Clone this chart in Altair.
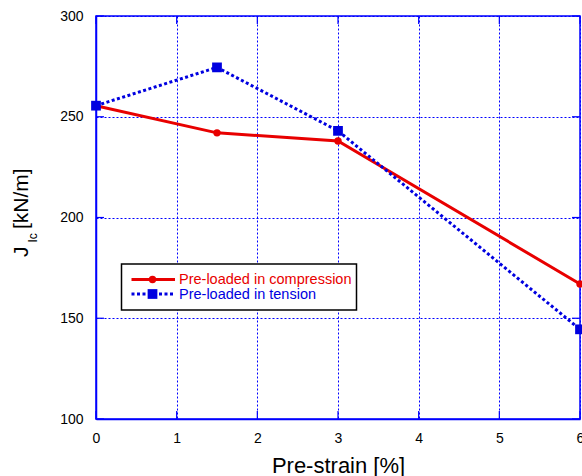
import altair as alt
import pandas as pd

# Pre-strain levels [%] and fracture toughness J_Ic [kN/m]
strain = [0, 1.5, 3, 6]
jic_compression = [255.5, 242, 238, 167]
jic_tension = [255.5, 274.5, 243, 144.5]
series_names = ["Pre-loaded in compression", "Pre-loaded in tension"]
x_ticks = [0, 1, 2, 3, 4, 5, 6]
y_ticks = [100, 150, 200, 250, 300]

RED = "#e80000"
BLUE = "#0000e0"
GRID = "#0000ff"
FONT = "Liberation Sans"
W, H = 484, 403
TICK = 8

comp = pd.DataFrame({"strain": strain, "jic": jic_compression})
tens = pd.DataFrame({"strain": strain, "jic": jic_tension})

x_scale = alt.Scale(domain=[0, 6], nice=False)
y_scale = alt.Scale(domain=[100, 300], nice=False, zero=False)

x_enc = alt.X(
    "strain:Q", scale=x_scale,
    axis=alt.Axis(values=x_ticks, title="Pre-strain [%]", titleX=W / 2, titleY=53,
                  titleAlign="center", titleBaseline="alphabetic", titleFontSize=22,
                  titleFont=FONT, titleFontWeight="normal", titleColor="black",
                  labelPadding=12, labelFlush=False, format="d"),
)
y_enc = alt.Y(
    "jic:Q", scale=y_scale,
    axis=alt.Axis(values=y_ticks, title=None, labelPadding=13, labelFlush=False, format="d"),
)

line_comp = alt.Chart(comp).mark_line(color=RED, strokeWidth=3).encode(x=x_enc, y=y_enc)
pts_comp = alt.Chart(comp).mark_point(shape="circle", filled=True, color=RED, size=55, opacity=1).encode(
    x="strain:Q", y="jic:Q")
line_tens = alt.Chart(tens).mark_line(color=BLUE, strokeWidth=3, strokeDash=[3, 2.5]).encode(
    x="strain:Q", y="jic:Q")
pts_tens = alt.Chart(tens).mark_point(shape="square", filled=True, color=BLUE, size=95, opacity=1).encode(
    x="strain:Q", y="jic:Q")

# inward tick marks on all four sides
xt = pd.DataFrame({"strain": x_ticks})
yt = pd.DataFrame({"jic": y_ticks})
tick_style = dict(color=GRID, strokeWidth=1.2)
ticks_bottom = alt.Chart(xt).mark_rule(**tick_style).encode(
    x="strain:Q", y=alt.value(H), y2=alt.value(H - TICK))
ticks_top = alt.Chart(xt).mark_rule(**tick_style).encode(
    x="strain:Q", y=alt.value(0), y2=alt.value(TICK))
ticks_left = alt.Chart(yt).mark_rule(**tick_style).encode(
    y="jic:Q", x=alt.value(0), x2=alt.value(TICK))
ticks_right = alt.Chart(yt).mark_rule(**tick_style).encode(
    y="jic:Q", x=alt.value(W), x2=alt.value(W - TICK))

one = pd.DataFrame({"k": [0]})

# y-axis title with subscript: J_Ic [kN/m]
title_j = alt.Chart(one).mark_text(text="J", angle=270, align="left", baseline="alphabetic",
                                   fontSize=21, font=FONT, color="black").encode(
    x=alt.value(-68), y=alt.value(241))
title_sub = alt.Chart(one).mark_text(text="Ic", angle=270, align="left", baseline="alphabetic",
                                     fontSize=12, font=FONT, color="black").encode(
    x=alt.value(-59), y=alt.value(226.5))
title_unit = alt.Chart(one).mark_text(text="[kN/m]", angle=270, align="left", baseline="alphabetic",
                                      fontSize=21, font=FONT, color="black").encode(
    x=alt.value(-68), y=alt.value(213))

# legend box
leg_box = alt.Chart(one).mark_rect(fill="white", stroke="black", strokeWidth=1.5).encode(
    x=alt.value(25.5), x2=alt.value(260.5), y=alt.value(248), y2=alt.value(294))
leg_red_line = alt.Chart(one).mark_rule(color=RED, strokeWidth=3).encode(
    x=alt.value(35.5), x2=alt.value(79), y=alt.value(263.5))
leg_red_pt = alt.Chart(one).mark_point(shape="circle", filled=True, color=RED, size=55, opacity=1).encode(
    x=alt.value(56.5), y=alt.value(263.5))
leg_red_txt = alt.Chart(one).mark_text(text=series_names[0], align="left", baseline="middle",
                                       fontSize=14.5, font=FONT, color=RED).encode(
    x=alt.value(83), y=alt.value(264))
leg_blue_line = alt.Chart(one).mark_rule(color=BLUE, strokeWidth=3, strokeDash=[3, 2.5]).encode(
    x=alt.value(35.5), x2=alt.value(79), y=alt.value(278))
leg_blue_pt = alt.Chart(one).mark_point(shape="square", filled=True, color=BLUE, size=95, opacity=1).encode(
    x=alt.value(56.5), y=alt.value(278))
leg_blue_txt = alt.Chart(one).mark_text(text=series_names[1], align="left", baseline="middle",
                                        fontSize=14.5, font=FONT, color=BLUE).encode(
    x=alt.value(83), y=alt.value(278.5))

chart = alt.layer(
    line_comp, ticks_bottom, ticks_top, ticks_left, ticks_right,
    pts_comp, line_tens, pts_tens,
    title_j, title_sub, title_unit,
    leg_box, leg_red_line, leg_red_pt, leg_red_txt,
    leg_blue_line, leg_blue_pt, leg_blue_txt,
).properties(
    width=W, height=H,
    autosize="none",
    padding={"left": 96, "top": 16, "right": 2, "bottom": 57},
    background="white",
).configure_view(
    stroke=GRID, strokeWidth=1.5,
).configure_axis(
    domainColor=GRID, domainWidth=1.5,
    grid=True, gridColor=GRID, gridDash=[2, 2], gridWidth=1, gridOpacity=1,
    ticks=False, tickSize=0,
    labelFont=FONT, labelFontSize=14, labelColor="black",
)

chart.save("out.html", embed_options={"renderer": "svg", "actions": False})
